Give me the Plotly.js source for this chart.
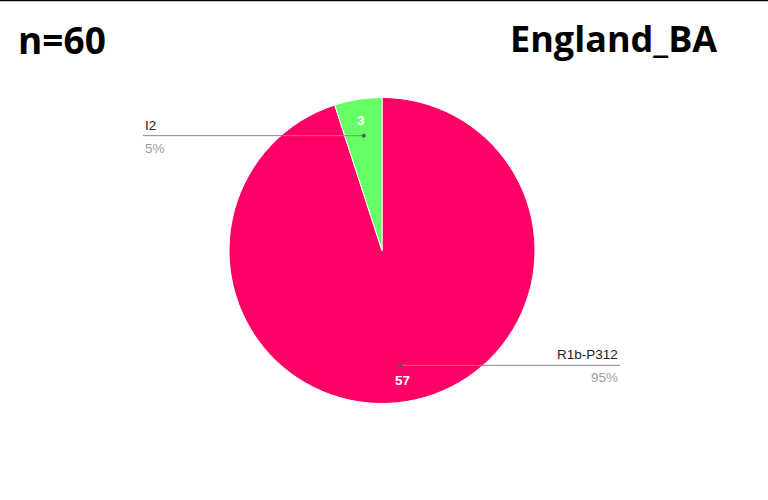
<!DOCTYPE html>
<html>
<head>
<meta charset="utf-8">
<script src="https://cdn.plot.ly/plotly-3.0.1.min.js"></script>
<style>html,body{margin:0;padding:0;background:#fff;}#chart{width:768px;height:500px;}</style>
</head>
<body>
<div id="chart"></div>
<script>
const labels = ['R1b-P312', 'I2'];
const values = [57, 3];
const colors = ['#FF0066', '#66FF66'];
const titleLeft = 'n=60';
const titleRight = 'England_BA';

const W = 768, H = 500;
const cx = 382, cy = 250.5, R = 153;
const total = values.reduce((a, b) => a + b, 0);

const px = x => x / W;
const py = y => 1 - y / H;

const annotations = [
  {text: '<b>' + titleLeft + '</b>', xref: 'paper', yref: 'paper', x: px(16), y: py(40), xanchor: 'left', yanchor: 'middle', showarrow: false,
   font: {family: 'Open Sans, Noto Sans, sans-serif', size: 37, color: '#000'}},
  {text: '<b>' + titleRight + '</b>', xref: 'paper', yref: 'paper', x: px(719), y: py(39), xanchor: 'right', yanchor: 'middle', showarrow: false,
   font: {family: 'Open Sans, Noto Sans, sans-serif', size: 36, color: '#000'}}
];
const shapes = [
  {type: 'line', xref: 'paper', yref: 'paper', x0: 0, x1: 1, y0: py(0.5), y1: py(0.5), line: {color: '#000', width: 1.5}}
];

let cum = 0;
values.forEach((v, i) => {
  const theta = (cum + v / 2) / total * 2 * Math.PI;
  cum += v;
  const s = Math.sin(theta), c = Math.cos(theta);
  annotations.push({text: '<b>' + v + '</b>', xref: 'paper', yref: 'paper',
    x: px(cx + 0.86 * R * s), y: py(cy - 0.86 * R * c), xanchor: 'center', yanchor: 'middle', showarrow: false,
    font: {family: 'Liberation Sans, Arial, sans-serif', size: 13.5, color: '#fff'}});
  const dx = cx + 0.76 * R * s, dy = cy - 0.76 * R * c;
  const left = s < 0;
  const lx = left ? 143 : 620;
  shapes.push({type: 'line', xref: 'paper', yref: 'paper', x0: px(dx), x1: px(lx), y0: py(dy), y1: py(dy),
    line: {color: '#8a8a8a', width: 1}});
  shapes.push({type: 'circle', xref: 'paper', yref: 'paper', x0: px(dx - 2), x1: px(dx + 2), y0: py(dy - 2), y1: py(dy + 2),
    fillcolor: '#555', line: {color: '#555', width: 0}});
  const pct = Math.round(v / total * 100) + '%';
  annotations.push({text: labels[i], xref: 'paper', yref: 'paper', x: px(lx), y: py(dy - 1), xanchor: left ? 'left' : 'right', yanchor: 'bottom', showarrow: false,
    font: {family: 'Liberation Sans, Arial, sans-serif', size: 13.5, color: '#222'}});
  annotations.push({text: pct, xref: 'paper', yref: 'paper', x: px(lx), y: py(dy + 3), xanchor: left ? 'left' : 'right', yanchor: 'top', showarrow: false,
    font: {family: 'Liberation Sans, Arial, sans-serif', size: 13.5, color: '#9e9e9e'}});
});

const data = [{
  type: 'pie',
  labels: labels,
  values: values,
  sort: false,
  direction: 'clockwise',
  rotation: 0,
  textinfo: 'none',
  hoverinfo: 'label+value+percent',
  marker: {colors: colors, line: {color: '#fff', width: 1}},
  domain: {x: [px(cx - R), px(cx + R)], y: [py(cy + R), py(cy - R)]}
}];

const layout = {
  width: W, height: H,
  margin: {l: 0, r: 0, t: 0, b: 0},
  paper_bgcolor: '#fff',
  showlegend: false,
  annotations: annotations,
  shapes: shapes
};

Plotly.newPlot('chart', data, layout, {displayModeBar: false, staticPlot: true});
</script>
</body>
</html>
